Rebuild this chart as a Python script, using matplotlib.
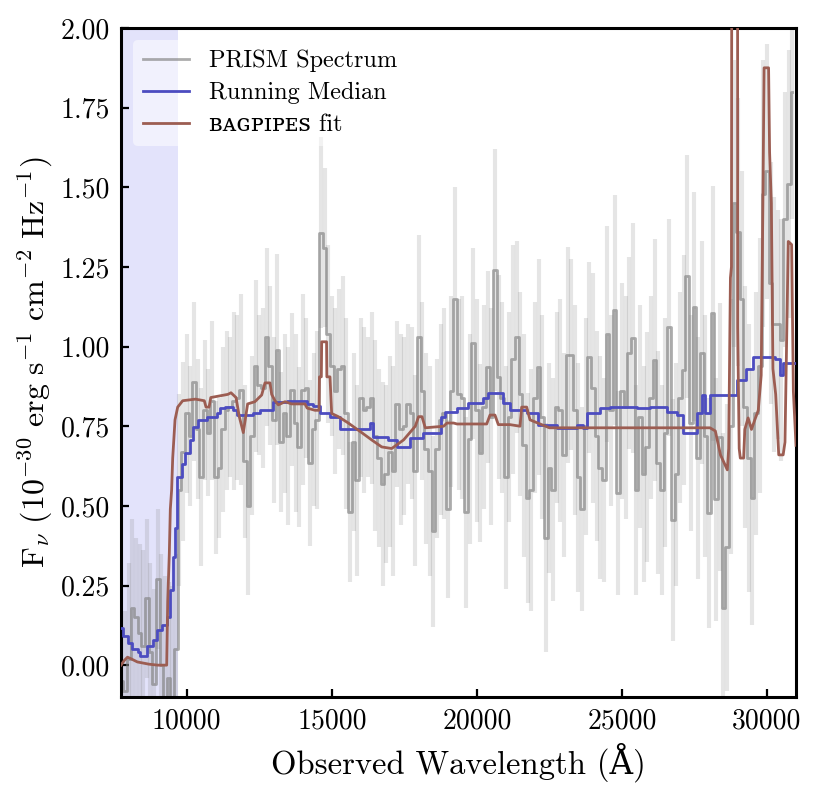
import numpy as np
import matplotlib
matplotlib.use("Agg")
import matplotlib.pyplot as plt

plt.rcParams['font.family'] = ['cmr10', 'DejaVu Serif', 'DejaVu Sans']
plt.rcParams['mathtext.fontset'] = 'cm'
plt.rcParams['axes.unicode_minus'] = False

wave = np.arange(7750, 31000, 125)
flux = [
    -0.05, -0.08, 0.02, 0.18, 0.15, 0.10, 0.06, 0.21,
    0.04, -0.06, 0.27, 0.00, -0.12, -0.04, -0.10, 0.05,
    0.55, 0.67, 0.79, 0.72, 0.89, 0.74, 0.59, 0.80,
    0.73, 0.83, 0.59, 0.62, 0.74, 0.80, 0.81, 0.83,
    0.84, 0.865, 0.64, 0.50, 0.72, 0.94, 0.88, 0.87,
    1.03, 0.94, 0.77, 0.99, 0.70, 0.79, 0.72, 0.865,
    0.76, 0.685, 0.865, 0.87, 0.635, 0.74, 0.77, 1.357,
    1.31, 1.04, 0.94, 0.86, 0.93, 0.94, 0.79, 0.48,
    0.70, 0.58, 0.84, 0.80, 0.81, 0.84, 0.72, 0.65,
    0.57, 0.60, 0.67, 0.61, 0.82, 0.74, 0.75, 0.82,
    0.79, 0.61, 1.03, 0.86, 0.68, 0.61, 0.42, 0.68,
    0.77, 0.79, 0.49, 0.86, 1.15, 0.85, 0.84, 0.48,
    0.71, 1.01, 0.80, 0.665, 0.81, 0.936, 0.78, 1.24,
    0.905, 0.84, 0.59, 0.78, 0.96, 1.03, 0.85, 0.69,
    0.525, 0.55, 0.84, 0.936, 0.78, 0.40, 0.62, 0.55,
    0.81, 0.80, 0.66, 0.974, 0.974, 0.80, 0.59, 0.49,
    0.75, 0.967, 0.87, 0.72, 0.62, 0.58, 1.04, 0.80,
    1.115, 0.54, 0.86, 0.81, 0.98, 1.027, 0.55, 0.78,
    0.60, 0.685, 0.84, 0.958, 0.635, 0.55, 0.73, 1.06,
    0.456, 0.60, 0.84, 0.927, 1.22, 0.76, 1.125, 0.65,
    0.98, 0.72, 0.478, 1.105, 0.52, 0.716, 0.18, 0.37,
    0.75, 1.45, 1.36, 1.15, 0.81, 0.65, 0.525, 0.79,
    0.94, 1.48, 1.55, 1.20, 1.07, 1.07, 1.02, 1.40,
    1.51, 1.80,
]
flux_err = [
    0.22, 0.25, 0.30, 0.28, 0.25, 0.28, 0.30, 0.25,
    0.28, 0.30, 0.22, 0.35, 0.40, 0.30, 0.35, 0.30,
    0.30, 0.28, 0.25, 0.22, 0.25, 0.22, 0.28, 0.22,
    0.20, 0.25, 0.24, 0.22, 0.26, 0.25, 0.22, 0.28,
    0.26, 0.30, 0.24, 0.28, 0.25, 0.27, 0.22, 0.25,
    0.28, 0.25, 0.26, 0.30, 0.22, 0.25, 0.28, 0.24,
    0.28, 0.25, 0.30, 0.22, 0.26, 0.24, 0.28, 0.30,
    0.25, 0.28, 0.22, 0.26, 0.25, 0.28, 0.30, 0.22,
    0.28, 0.30, 0.25, 0.26, 0.22, 0.27, 0.30, 0.28,
    0.32, 0.28, 0.30, 0.33, 0.26, 0.30, 0.28, 0.25,
    0.27, 0.30, 0.32, 0.28, 0.30, 0.33, 0.30, 0.28,
    0.30, 0.33, 0.28, 0.30, 0.35, 0.30, 0.32, 0.30,
    0.33, 0.30, 0.35, 0.28, 0.32, 0.30, 0.34, 0.38,
    0.32, 0.30, 0.35, 0.33, 0.36, 0.30, 0.32, 0.35,
    0.33, 0.38, 0.30, 0.34, 0.32, 0.36, 0.33, 0.35,
    0.30, 0.35, 0.32, 0.34, 0.30, 0.33, 0.36, 0.32,
    0.34, 0.30, 0.36, 0.33, 0.35, 0.32, 0.34, 0.30,
    0.36, 0.32, 0.34, 0.35, 0.30, 0.36, 0.33, 0.35,
    0.34, 0.36, 0.32, 0.38, 0.35, 0.33, 0.36, 0.34,
    0.38, 0.35, 0.33, 0.36, 0.38, 0.34, 0.36, 0.38,
    0.35, 0.38, 0.36, 0.40, 0.38, 0.42, 0.55, 0.45,
    0.40, 0.45, 0.42, 0.40, 0.38, 0.42, 0.40, 0.38,
    0.40, 0.42, 0.40, 0.38, 0.40, 0.36, 0.38, 0.40,
    0.42, 0.40,
]

# running median: step edges (A) and level held until next edge
med_wave = [7735, 7815, 7988, 8102, 8332, 8390, 8620, 8850, 8964, 9136, 9308,
            9423, 9515, 9595, 9676, 9825, 9940, 10112, 10227, 10399, 10686,
            11031, 11146, 11318, 11605, 11720, 12294, 12524, 12984, 13443,
            14132, 14362, 14592, 14937, 15281, 16315, 16430, 16940, 17250,
            17700, 18150, 18760, 18900, 19300, 19700, 20222, 20400, 20911,
            21140, 21717, 22117, 22752, 23441, 23670, 23786, 24244, 24589,
            25510, 25967, 26542, 26886, 27116, 27580, 27755, 27873, 28045,
            28983, 29273, 29507, 30265, 30440, 30557, 31000]
med_flux = [0.117, 0.09, 0.07, 0.05, 0.04, 0.03, 0.06, 0.08, 0.11, 0.125, 0.15,
            0.236, 0.34, 0.43, 0.59, 0.63, 0.667, 0.707, 0.748, 0.77, 0.78,
            0.79, 0.807, 0.81, 0.80, 0.785, 0.79, 0.80, 0.826, 0.83,
            0.82, 0.815, 0.79, 0.78, 0.74, 0.76, 0.716, 0.707, 0.685,
            0.713, 0.73, 0.78, 0.795, 0.807, 0.823, 0.84, 0.855, 0.823,
            0.80, 0.79, 0.754, 0.745, 0.755, 0.745, 0.79, 0.807, 0.81,
            0.807, 0.81, 0.795, 0.785, 0.73, 0.79, 0.848, 0.79, 0.848,
            0.895, 0.93, 0.967, 0.96, 0.911, 0.947, 0.947]

# BAGPIPES best-fit model
fit_wave = [7735, 7850, 7960, 8080, 8300, 8700, 9000, 9310, 9345, 9400, 9435,
            9480, 9517, 9597, 9689, 9861, 10300, 10606, 10665, 10770, 10830,
            11420, 11526, 11700, 11812, 11950, 12100, 12350, 12584, 12698,
            12870, 12928, 13043, 13157, 13387, 13617, 14076, 14150, 14420,
            14560, 14575, 14640, 14652, 14820, 14830, 14938, 14996, 15225,
            15570, 16030, 16375, 16720, 17065, 17475, 17878, 17993, 18108,
            18223, 18855, 18970, 19200, 19315, 20339, 20453, 20625, 20740,
            21140, 21487, 21545, 21717, 21832, 22500, 28035, 28220, 28397,
            28633, 28680, 28740, 28775, 28790, 28985, 28990, 29042, 29080,
            29195, 29236, 29350, 29465, 29580, 29700, 29800, 29858, 29900,
            30055, 30090, 30150, 30205, 30300, 30405, 30557, 30620, 30674,
            30734, 30850, 30909, 31000]
fit_flux = [0.0, 0.015, 0.025, 0.02, 0.01, 0.003, 0.0, 0.0, 0.2, 0.35, 0.49,
            0.55, 0.65, 0.77, 0.81, 0.83, 0.835, 0.83, 0.81, 0.81, 0.84,
            0.85, 0.855, 0.84, 0.78, 0.73, 0.82, 0.827, 0.848, 0.886,
            0.886, 0.85, 0.83, 0.817, 0.827, 0.82, 0.82, 0.807, 0.80,
            0.80, 0.905, 0.905, 1.015, 1.015, 0.905, 0.905, 0.79, 0.78,
            0.76, 0.73, 0.707, 0.685, 0.68, 0.707, 0.75, 0.78, 0.78,
            0.745, 0.75, 0.76, 0.76, 0.757, 0.757, 0.785, 0.785, 0.755,
            0.755, 0.75, 0.81, 0.81, 0.77, 0.745, 0.745, 0.735, 0.66,
            0.613, 0.68, 1.216, 1.25, 2.6, 2.6, 1.06, 0.68, 0.65,
            0.65, 0.74, 0.776, 0.74, 0.77, 0.80, 0.91, 1.445, 1.875,
            1.875, 1.61, 1.45, 0.93, 0.85, 0.66, 0.66, 0.70, 1.0,
            1.33, 1.32, 0.86, 0.69]

lya_edge = 9700

flux = np.array(flux)
flux_err = np.array(flux_err)

fig = plt.figure(figsize=(8.21, 7.97), dpi=100)
ax = fig.add_axes([121/821, 100/797, 675/821, 669/797])

ax.axvspan(7000, lya_edge, color='#e3e3fb', zorder=0, lw=0)
ax.vlines(wave, flux - flux_err, flux + flux_err, color='grey', alpha=0.2,
          lw=3, zorder=1)
ax.plot(wave, flux, drawstyle='steps-mid', color='grey', alpha=0.65, lw=2,
        zorder=2, label='PRISM Spectrum')
ax.plot(med_wave, med_flux, drawstyle='steps-post', color='#4c4cc0', lw=2,
        zorder=3, label='Running Median')
ax.plot(fit_wave, fit_flux, color='#9c5d52', lw=2, zorder=4,
        label='\u0299\u1d00\u0262\u1d18\u026a\u1d18\u1d07\ua731 fit')

ax.set_xlim(7735, 31000)
ax.set_ylim(-0.1, 2.0)
ax.set_yticks([0.0, 0.25, 0.5, 0.75, 1.0, 1.25, 1.5, 1.75, 2.0])
ax.set_yticklabels(['0.00', '0.25', '0.50', '0.75', '1.00', '1.25', '1.50',
                    '1.75', '2.00'])
ax.set_xticks([10000, 15000, 20000, 25000, 30000])

ax.tick_params(direction='in', length=6, width=1.6, labelsize=20, pad=8)
for s in ax.spines.values():
    s.set_linewidth(2.2)

ax.set_xlabel('Observed Wavelength (\u00c5)', fontsize=23.5, labelpad=6)
ax.set_ylabel(r'$\mathrm{F}_\nu\ (10^{-30}\ \mathrm{erg\ s^{-1}\ cm^{-2}\ Hz^{-1}})$',
              fontsize=23)

leg = ax.legend(loc='upper left', fontsize=17.5, framealpha=0.5,
                edgecolor='none', handlelength=1.9, borderaxespad=0.5,
                labelspacing=0.4)

fig.savefig('out.png', dpi=100)
